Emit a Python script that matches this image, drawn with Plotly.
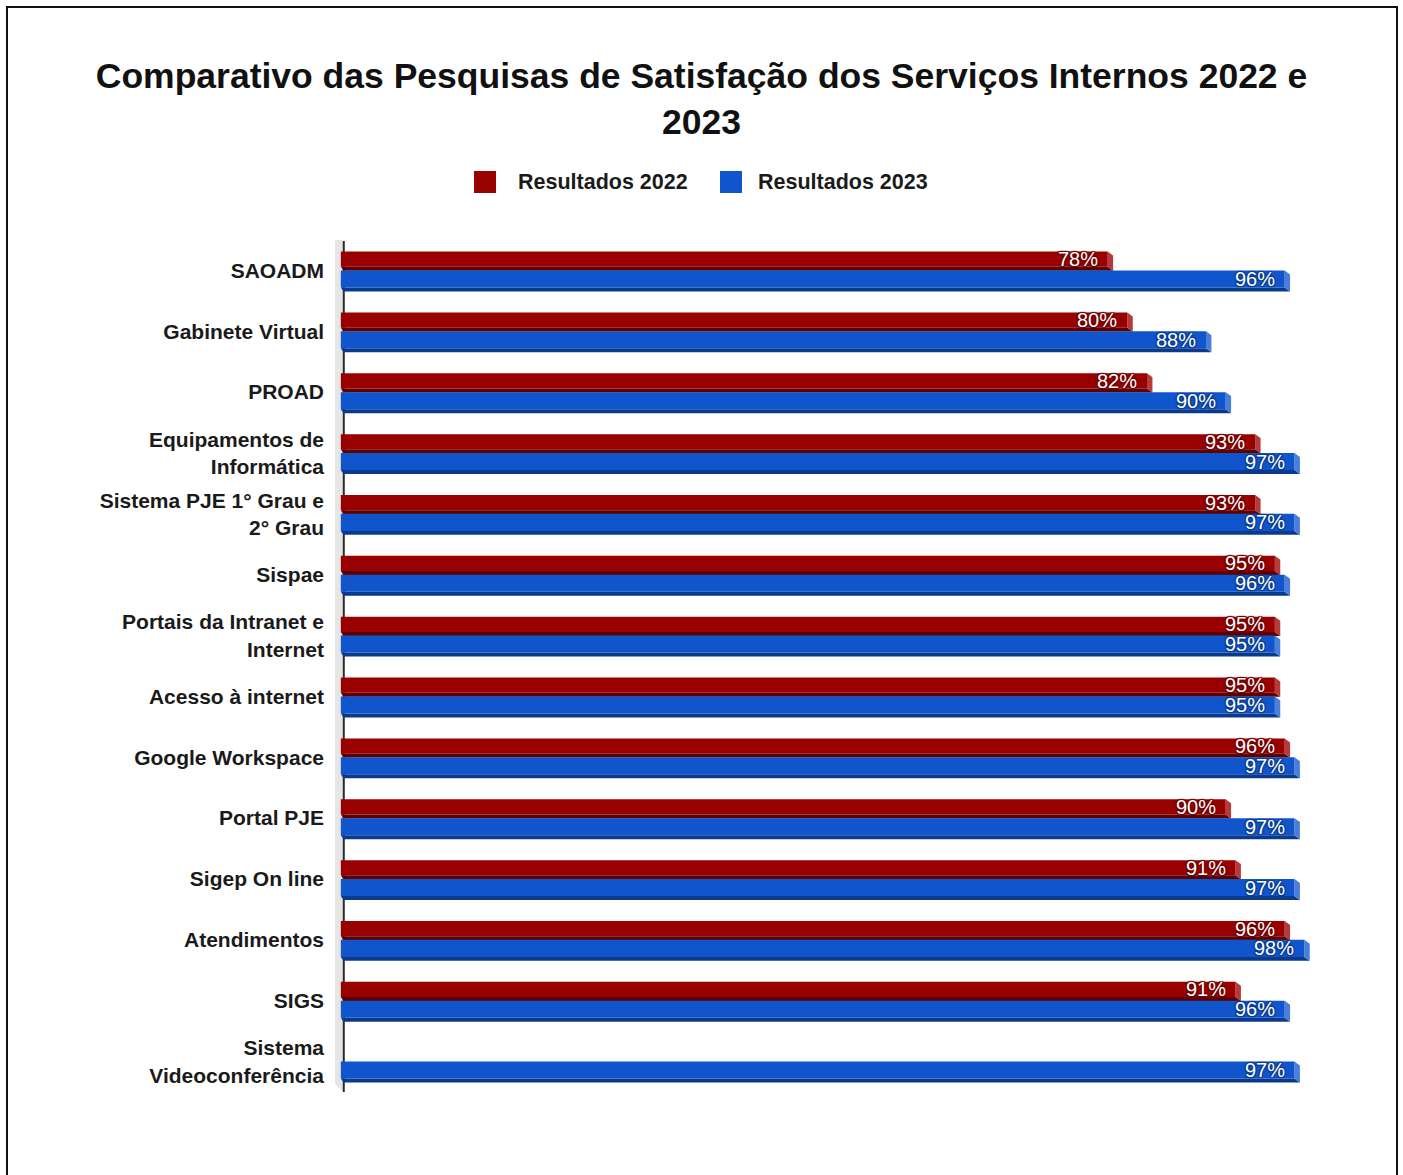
import plotly.graph_objects as go

# ---------------- data ----------------
categories = [
    "SAOADM",
    "Gabinete Virtual",
    "PROAD",
    "Equipamentos de<br>Informática",
    "Sistema PJE 1° Grau e<br>2° Grau",
    "Sispae",
    "Portais da Intranet e<br>Internet",
    "Acesso à internet",
    "Google Workspace",
    "Portal PJE",
    "Sigep On line",
    "Atendimentos",
    "SIGS",
    "Sistema<br>Videoconferência",
]
resultados_2022 = [78, 80, 82, 93, 93, 95, 95, 95, 96, 90, 91, 96, 91, None]
resultados_2023 = [96, 88, 90, 97, 97, 96, 95, 95, 97, 97, 97, 98, 96, 97]
series_names = ["Resultados 2022", "Resultados 2023"]
title_text = "Comparativo das Pesquisas de Satisfação dos Serviços Internos 2022 e<br>2023"

# ---------------- style ----------------
W, H = 1403, 1175
M_L, M_R, M_T, M_B = 331, 79, 240, 83
X_RANGE = [-1, 100]
FONT = "Liberation Sans, Arial, sans-serif"

front = ["#990000", "#1155cc"]
dark = ["#5c0000", "#0b3a8c"]
side = ["#b53a3a", "#4a7fd9"]
shadow = ["#6a0000", "#0a3a8a"]

# bar geometry in category units (front face)
offs = [-0.31, 0.0]
widths = [0.25, 0.28]
depth_x = 0.55   # x-depth of 3D side (in % units)
depth_y = 0.065  # y-depth of 3D bottom (category units)

pos = list(range(len(categories)))
series = [resultados_2022, resultados_2023]

fig = go.Figure()
shapes = []
annotations = []

pw = W - M_L - M_R
ph = H - M_T - M_B


def px_to_paper_x(px):
    return (px - M_L) / pw


def px_to_paper_y(py):
    return 1 - (py - M_T) / ph


# wall + axis line (decoration at the value axis origin)
shapes.append(dict(
    type="path", xref="x", yref="y", layer="below",
    path="M -0.6,-0.615 L 0.3,-0.484 L 0.3,13.5 L -0.6,13.37 Z",
    fillcolor="#e6e6e6", line=dict(width=0),
))
shapes.append(dict(
    type="line", xref="x", yref="y", layer="below",
    x0=0.3, x1=0.3, y0=-0.484, y1=13.5,
    line=dict(color="#2b2b2b", width=2),
))

for s, (name, vals) in enumerate(zip(series_names, series)):
    fig.add_trace(go.Bar(
        name=name, orientation="h", y=pos, x=vals,
        offset=offs[s], width=widths[s],
        marker=dict(color=front[s], line=dict(width=0)),
        showlegend=False, hoverinfo="x+name",
    ))
    for p, v in zip(pos, vals):
        if v is None:
            continue
        yt = p + offs[s]
        yb = yt + widths[s]
        # bottom (dark) face
        shapes.append(dict(
            type="path", xref="x", yref="y", layer="below",
            path=f"M 0,{yb} L {v},{yb} L {v + depth_x},{yb + depth_y} L {depth_x * 0.5},{yb + depth_y} Z",
            fillcolor=dark[s], line=dict(width=0),
        ))
        # right (side) face
        shapes.append(dict(
            type="path", xref="x", yref="y", layer="below",
            path=f"M {v},{yt} L {v + depth_x},{yt + depth_y} L {v + depth_x},{yb + depth_y} L {v},{yb} Z",
            fillcolor=side[s], line=dict(width=0),
        ))
        annotations.append(dict(
            x=v, y=yt + widths[s] / 2, xref="x", yref="y",
            text=f"{v}%", showarrow=False, xanchor="right", yanchor="middle",
            xshift=-8,
            font=dict(family=FONT, size=20, color="white",
                      shadow=f"1px 1px 1px {shadow[s]}, -1px -1px 1px {shadow[s]}, 1px -1px 1px {shadow[s]}, -1px 1px 1px {shadow[s]}"),
        ))

# manual legend (large rounded swatches)
legend_items = [(474, 516), (720, 756)]
for s, (sx, tx) in enumerate(legend_items):
    x0, x1 = px_to_paper_x(sx), px_to_paper_x(sx + 22)
    y0, y1 = px_to_paper_y(193), px_to_paper_y(171)
    shapes.append(dict(
        type="rect", xref="paper", yref="paper",
        x0=x0, x1=x1, y0=y0, y1=y1,
        fillcolor=front[s], line=dict(width=0),
    ))
    annotations.append(dict(
        x=px_to_paper_x(tx), y=px_to_paper_y(182), xref="paper", yref="paper",
        text=series_names[s], showarrow=False, xanchor="left", yanchor="middle",
        font=dict(family=FONT, size=21.5, color="#1a1a1a", weight="bold"),
    ))

# outer frame
shapes.append(dict(
    type="path", xref="paper", yref="paper",
    path=(f"M {px_to_paper_x(7)},{px_to_paper_y(1176)} L {px_to_paper_x(7)},{px_to_paper_y(7)} "
          f"L {px_to_paper_x(1397)},{px_to_paper_y(7)} L {px_to_paper_x(1397)},{px_to_paper_y(1176)}"),
    line=dict(color="#111111", width=2),
))

fig.update_layout(
    width=W, height=H,
    margin=dict(l=M_L, r=M_R, t=M_T, b=M_B, pad=0),
    paper_bgcolor="white", plot_bgcolor="white",
    barmode="overlay",
    title=dict(
        text=title_text, x=0.5, xref="container", xanchor="center",
        y=1 - 88 / H, yref="container", yanchor="middle",
        font=dict(family=FONT, size=35.5, color="#111111", weight="bold"),
    ),
    xaxis=dict(range=X_RANGE, visible=False, fixedrange=True),
    yaxis=dict(
        range=[13.5, -0.5], tickmode="array", tickvals=pos, ticktext=categories,
        showgrid=False, zeroline=False, showline=False, ticks="",
        tickfont=dict(family=FONT, size=21, color="#1a1a1a", weight="bold"),
        ticklabelstandoff=6,
    ),
    showlegend=False,
    shapes=shapes,
    annotations=annotations,
)

fig.write_html(
    "out.html",
    config={"displayModeBar": False},
    post_script="document.body.style.margin='0px'; document.body.style.overflow='hidden';",
)
